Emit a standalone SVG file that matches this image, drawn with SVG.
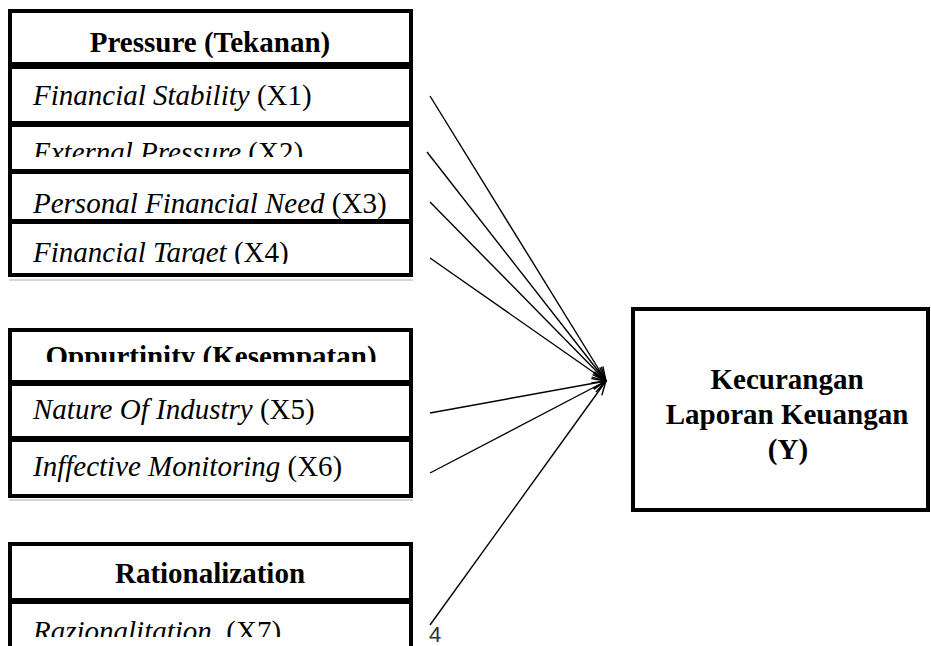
<svg xmlns="http://www.w3.org/2000/svg" width="931" height="646" viewBox="0 0 931 646">
<style>
.box{fill:#fff;stroke:#000;stroke-width:4}
.b{font-family:"Liberation Serif","Times New Roman",serif;font-size:29px;font-weight:bold;fill:#000}
.r{font-family:"Liberation Serif","Times New Roman",serif;font-size:29px;fill:#000}
.i{font-style:italic}
.conn{stroke:#000;stroke-width:1.4;fill:none;marker-end:url(#arr)}
.sh{stroke:#c8c8c8;stroke-width:1.5}
</style>
<defs>
<marker id="arr" viewBox="0 0 16 12" refX="15" refY="6" markerWidth="16" markerHeight="12" markerUnits="userSpaceOnUse" orient="auto">
<path d="M1,1 L15,6 L1,11" fill="none" stroke="#000" stroke-width="1.4"/>
</marker>
<clipPath id="c2"><rect x="12" y="127" width="397" height="30"/></clipPath>
<clipPath id="c4"><rect x="12" y="224" width="397" height="40"/></clipPath>
<clipPath id="c5"><rect x="12" y="332" width="397" height="30"/></clipPath>
<clipPath id="c7"><rect x="12" y="604" width="397" height="33"/></clipPath>
</defs>
<rect width="931" height="646" fill="#fff"/>

<g id="pressure">
<line class="sh" x1="9" y1="280" x2="413" y2="280"/>
<rect class="box" x="10" y="11" width="401" height="53"/>
<text class="b" x="210" y="52" text-anchor="middle">Pressure (Tekanan)</text>
<rect class="box" x="10" y="67" width="401" height="56"/>
<text class="r" x="33" y="105"><tspan class="i">Financial Stability</tspan> (X1)</text>
<rect class="box" x="10" y="125" width="401" height="46"/>
<text class="r" x="33" y="162" clip-path="url(#c2)"><tspan class="i">External Pressure</tspan> (X2)</text>
<rect class="box" x="10" y="172" width="401" height="49"/>
<text class="r" x="33" y="213"><tspan class="i">Personal Financial Need</tspan> (X3)</text>
<rect class="box" x="10" y="222" width="401" height="53"/>
<text class="r" x="33" y="262" clip-path="url(#c4)"><tspan class="i">Financial Target</tspan> (X4)</text>
</g>

<g id="opportunity">
<line class="sh" x1="9" y1="500" x2="413" y2="500"/>
<rect class="box" x="10" y="330" width="401" height="52"/>
<text class="b" x="211" y="366" text-anchor="middle" clip-path="url(#c5)">Oppurtinity (Kesempatan)</text>
<rect class="box" x="10" y="384" width="401" height="54"/>
<text class="r" x="33" y="419"><tspan class="i">Nature Of Industry</tspan> (X5)</text>
<rect class="box" x="10" y="440" width="401" height="56"/>
<text class="r" x="33" y="476"><tspan class="i">Inffective Monitoring</tspan> (X6)</text>
</g>

<g id="rationalization">
<rect class="box" x="10" y="544" width="401" height="56"/>
<text class="b" x="210" y="583" text-anchor="middle">Rationalization</text>
<rect class="box" x="10" y="602" width="401" height="60"/>
<text class="r" x="33" y="641" clip-path="url(#c7)" xml:space="preserve"><tspan class="i">Razionalitation</tspan>  (X7)</text>
</g>

<g id="fraud">
<rect class="box" x="633" y="309" width="295" height="201"/>
<text class="b" x="787" y="389" text-anchor="middle">Kecurangan</text>
<text class="b" x="787" y="424" text-anchor="middle">Laporan Keuangan</text>
<text class="b" x="788" y="459" text-anchor="middle">(Y)</text>
</g>

<g id="connectors">
<line class="conn" x1="430" y1="96" x2="606" y2="381"/>
<line class="conn" x1="427" y1="152" x2="606" y2="381"/>
<line class="conn" x1="430" y1="202" x2="606" y2="381"/>
<line class="conn" x1="430" y1="258" x2="606" y2="381"/>
<line class="conn" x1="430" y1="413" x2="606" y2="381"/>
<line class="conn" x1="430" y1="473" x2="606" y2="381"/>
<line class="conn" x1="430" y1="625" x2="606" y2="381"/>
</g>

<text x="429" y="642" font-family="Liberation Sans, sans-serif" font-size="22" fill="#333">4</text>
</svg>
